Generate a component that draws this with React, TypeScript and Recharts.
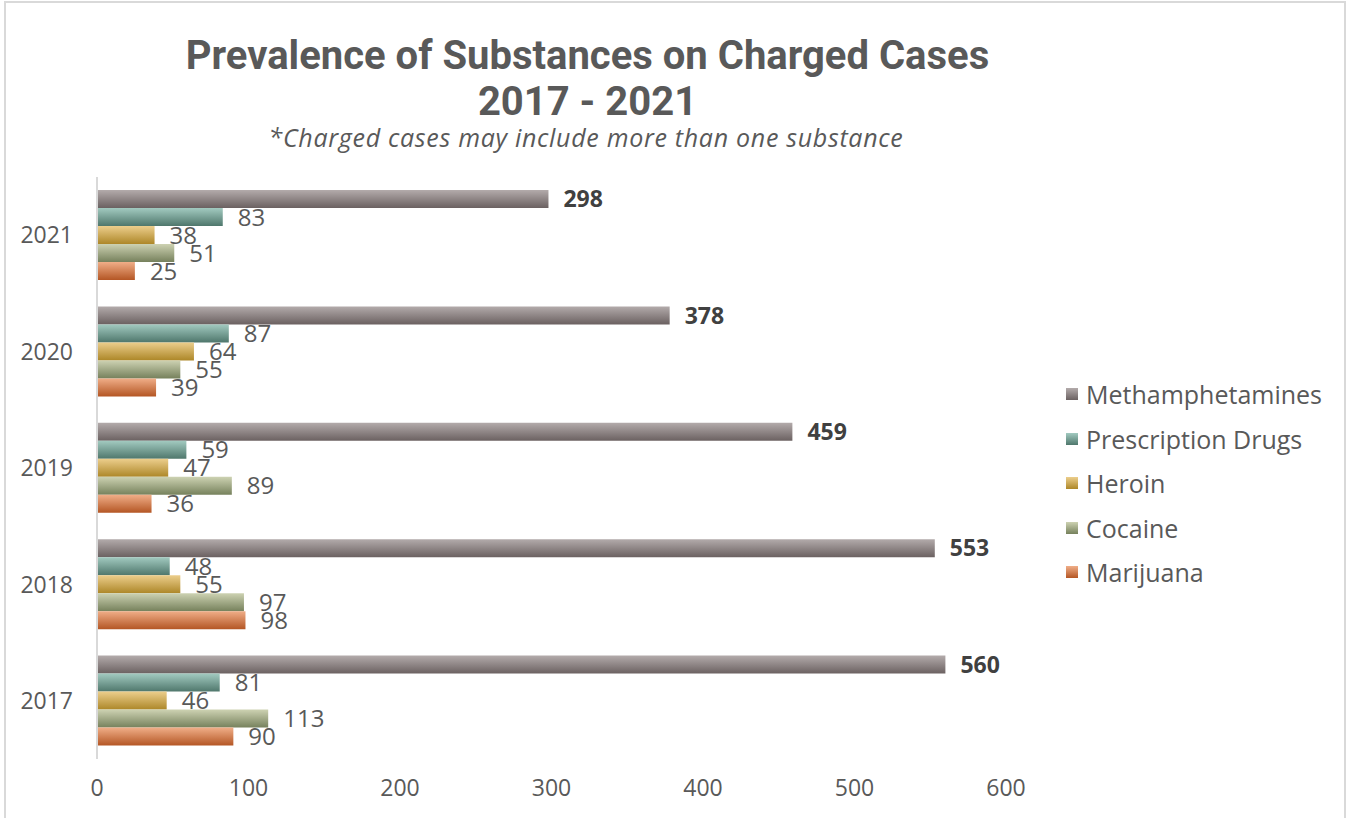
import React from 'react';
import { BarChart, Bar, XAxis, YAxis, LabelList } from 'recharts';

const years = ['2021', '2020', '2019', '2018', '2017'];
const methamphetamines = [298, 378, 459, 553, 560];
const prescriptionDrugs = [83, 87, 59, 48, 81];
const heroin = [38, 64, 47, 55, 46];
const cocaine = [51, 55, 89, 97, 113];
const marijuana = [25, 39, 36, 98, 90];
const xTicks = [0, 100, 200, 300, 400, 500, 600];

const seriesNames = ['Methamphetamines', 'Prescription Drugs', 'Heroin', 'Cocaine', 'Marijuana'];
const seriesKeys = ['meth', 'rx', 'heroin', 'cocaine', 'marijuana'];
const gradTop = ['#b3abab', '#a2cac0', '#ecce8c', '#cdd2b2', '#f0ae88'];
const gradBottom = ['#6b6161', '#4f776c', '#ad8728', '#76815c', '#b45624'];

const data = years.map((y, i) => ({
  year: y,
  meth: methamphetamines[i],
  rx: prescriptionDrugs[i],
  heroin: heroin[i],
  cocaine: cocaine[i],
  marijuana: marijuana[i],
}));

const FONT = '"Open Sans", sans-serif';

export default function App() {
  return (
    <div style={{ position: 'absolute', left: 0, top: 0, width: 1351, height: 818, background: '#fff', fontFamily: FONT }}>
      <div style={{ position: 'absolute', left: 4, top: 1, width: 1342, height: 830, border: '2px solid #d9d9d9', boxSizing: 'border-box' }} />
      <div style={{ position: 'absolute', left: 0, width: 1175, top: 33, textAlign: 'center', color: '#595959', fontFamily: 'Roboto, sans-serif', fontWeight: 700, fontSize: 40, lineHeight: '46px' }}>
        <div>Prevalence of Substances on Charged Cases</div>
        <div>2017 - 2021</div>
      </div>
      <div style={{ position: 'absolute', left: 0, width: 1172, top: 122, textAlign: 'center', color: '#595959', fontStyle: 'italic', fontSize: 25, letterSpacing: 0.7, lineHeight: '30px' }}>
        *Charged cases may include more than one substance
      </div>
      <BarChart
        width={1351}
        height={818}
        data={data}
        layout="vertical"
        barSize={18}
        barGap={0}
        margin={{ top: 177, right: 345, bottom: 19, left: 0 }}
      >
        <defs>
          {seriesKeys.map((k, i) => (
            <linearGradient key={k} id={`g-${k}`} x1="0" y1="0" x2="0" y2="1">
              <stop offset="0%" stopColor={gradTop[i]} />
              <stop offset="100%" stopColor={gradBottom[i]} />
            </linearGradient>
          ))}
        </defs>
        <XAxis
          type="number"
          domain={[0, 600]}
          ticks={xTicks}
          axisLine={false}
          tickLine={false}
          tickSize={0}
          tickMargin={21}
          height={40}
          tick={{ fill: '#595959', fontSize: 23, fontFamily: FONT }}
        />
        <YAxis
          type="category"
          dataKey="year"
          width={97}
          axisLine={{ stroke: '#d9d9d9', strokeWidth: 2 }}
          tickLine={false}
          tickSize={0}
          tickMargin={24}
          tick={{ fill: '#595959', fontSize: 23, fontFamily: FONT }}
        />
        {seriesKeys.map((k, i) => (
          <Bar key={k} dataKey={k} name={seriesNames[i]} fill={`url(#g-${k})`} isAnimationActive={false}>
            <LabelList
              dataKey={k}
              position="right"
              offset={15}
              fill={i === 0 ? '#404040' : '#595959'}
              fontSize={i === 0 ? 23 : 24}
              fontWeight={i === 0 ? 700 : 400}
              fontFamily={FONT}
            />
          </Bar>
        ))}
      </BarChart>
      <div style={{ position: 'absolute', left: 1066, top: 372 }}>
        {seriesNames.map((n, i) => (
          <div key={n} style={{ display: 'flex', alignItems: 'center', height: 44.5 }}>
            <div style={{ width: 12, height: 12, background: `linear-gradient(${gradTop[i]}, ${gradBottom[i]})`, marginRight: 8 }} />
            <span style={{ color: '#595959', fontSize: 25 }}>{n}</span>
          </div>
        ))}
      </div>
    </div>
  );
}
